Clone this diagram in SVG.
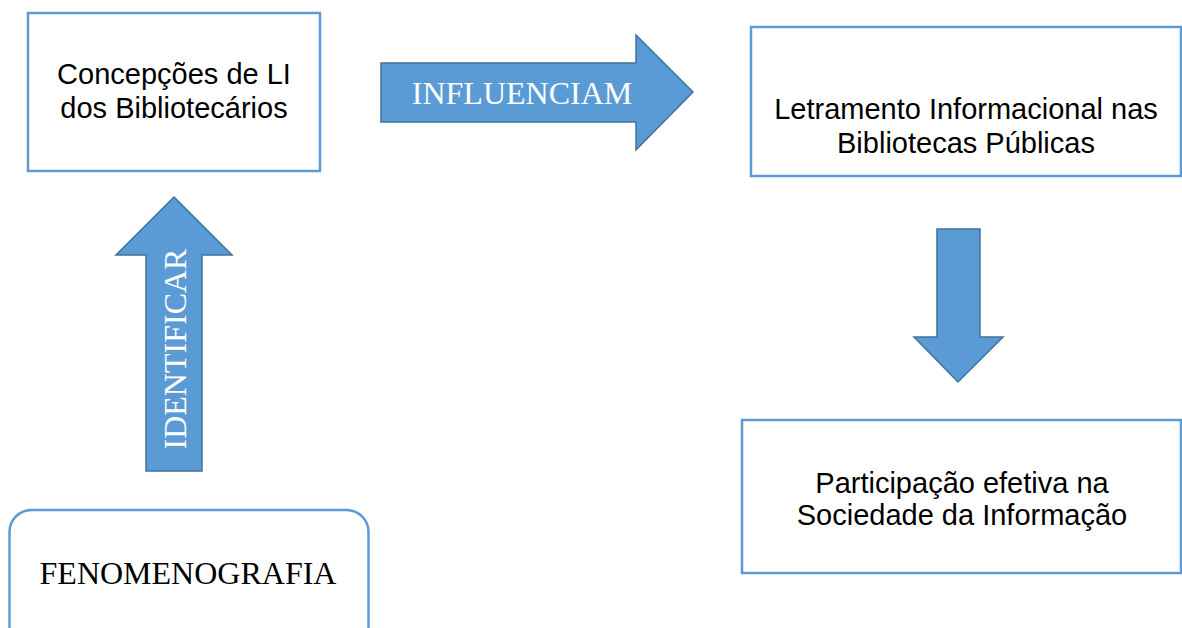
<svg xmlns="http://www.w3.org/2000/svg" width="1182" height="628" viewBox="0 0 1182 628">
<style>
.box{fill:#fff;stroke:#5B9BD5;stroke-width:2.5}
.arrow{fill:#5B9BD5;stroke:#41719C;stroke-width:1.5}
.sans{font-family:"Liberation Sans",Arial,sans-serif;font-size:29px;fill:#000;text-anchor:middle}
.serif{font-family:"Liberation Serif","Times New Roman",serif;font-size:32px}
.white{fill:#fff}
</style>
<rect width="1182" height="628" fill="#fff"/>
<g id="concepcoes">
<rect class="box" x="28" y="13" width="292" height="158"/>
<text class="sans" x="174" y="84">Concepções de LI</text>
<text class="sans" x="174" y="118">dos Bibliotecários</text>
</g>
<g id="letramento">
<rect class="box" x="751" y="27" width="430" height="149"/>
<text class="sans" x="966" y="119">Letramento Informacional nas</text>
<text class="sans" x="966" y="153">Bibliotecas Públicas</text>
</g>
<g id="participacao">
<rect class="box" x="742" y="420" width="439" height="153"/>
<text class="sans" x="962" y="493">Participação efetiva na</text>
<text class="sans" x="962" y="525">Sociedade da Informação</text>
</g>
<g id="fenomenografia">
<rect class="box" x="9.5" y="510" width="359" height="140" rx="22" ry="22"/>
<text class="serif" x="188" y="584" text-anchor="middle" fill="#000">FENOMENOGRAFIA</text>
</g>
<g id="connectors">
<g id="influenciam">
<polygon class="arrow" points="381,63 636,63 636,35 693,92 636,150 636,122 381,122"/>
<text class="serif white" x="522" y="104" text-anchor="middle">INFLUENCIAM</text>
</g>
<g id="identificar">
<polygon class="arrow" points="146,471 146,255 116,255 174,197 232,255 202,255 202,471"/>
<text class="serif white" transform="translate(186,349) rotate(-90)" x="0" y="0" text-anchor="middle">IDENTIFICAR</text>
</g>
<g id="down-arrow">
<polygon class="arrow" points="937,229 980,229 980,337 1003,337 958,382 914,337 937,337"/>
</g>
</g>
</svg>
